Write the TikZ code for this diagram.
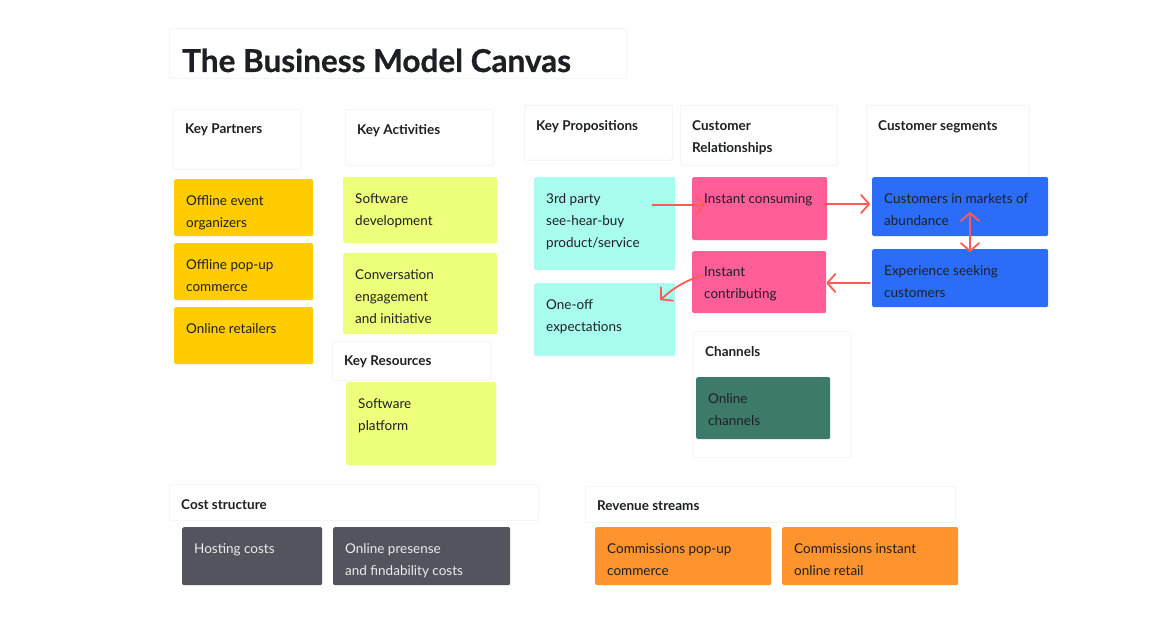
\documentclass[tikz,border=0pt]{standalone}
\usepackage{fontspec}
\setmainfont{Lato}
\newfontfamily\titlefont[BoldFeatures={FakeBold=0.7}]{Lato}
\usetikzlibrary{arrows.meta}
\definecolor{ink}{HTML}{1E1F24}
\definecolor{light}{HTML}{ECECEE}
\definecolor{cyellow}{HTML}{FFCC00}
\definecolor{clime}{HTML}{EEFF7B}
\definecolor{ccyan}{HTML}{A8FDEF}
\definecolor{cpink}{HTML}{FF5E99}
\definecolor{cblue}{HTML}{2B6DF8}
\definecolor{cgreen}{HTML}{3D7A6A}
\definecolor{cgray}{HTML}{53555E}
\definecolor{corange}{HTML}{FF932D}
\definecolor{arrred}{HTML}{FF5B55}
\definecolor{hborder}{HTML}{F0F0F0}
\tikzset{
  box/.style={rounded corners=1.5pt, inner sep=0pt, anchor=north west},
  head/.style={box, fill=white, draw=hborder, line width=0.6pt},
  txt/.style={anchor=north west, inner sep=0pt, align=left, font=\fontsize{13.5}{22}\selectfont, text=ink},
  htxt/.style={txt, font=\fontsize{13.5}{22}\selectfont\bfseries},
  arr/.style={draw=arrred, line width=1.8pt, line cap=round, line join=round,
    -{Straight Barb[length=8pt,width=18pt,round]}},
  darr/.style={draw=arrred, line width=1.8pt, line cap=round, line join=round,
    {Straight Barb[length=8pt,width=18pt,round]}-{Straight Barb[length=8pt,width=18pt,round]}}
}
% header box: name, x, y, w, h, text
\newcommand\hdr[6]{%
  \node[head, minimum width=#4, minimum height=#5] (#1) at (#2,#3) {};
  \node[htxt] (#1t) at ([xshift=12pt,yshift=-15pt]#1.north west) {#6};}
% sticky note: [text colour] name, x, y, w, h, fill, text
\newcommand\stk[8][ink]{%
  \node[box, fill=#7, minimum width=#5, minimum height=#6] (#2) at (#3,#4) {};
  \node[txt, text=#1] (#2t) at ([xshift=12pt,yshift=-16pt]#2.north west) {#8};}
\begin{document}
\begin{tikzpicture}[x=1pt,y=-1pt]
\useasboundingbox[fill=white] (0,0) rectangle (1174,620);

% title
\node[head, minimum width=457, minimum height=50] (title) at (169,28) {};
\node[anchor=base west, inner sep=0pt, font=\titlefont\fontsize{31.5}{33}\selectfont\bfseries, text=ink] (titlet) at (182,72) {The Business Model Canvas};

% section headers
\hdr{kp}{173}{109}{128}{60}{Key Partners}
\hdr{ka}{345}{109}{148}{56}{Key Activities}
\hdr{kpr}{524}{105}{148}{55}{Key Propositions}
\hdr{cr}{680}{105}{157}{60}{Customer\\Relationships}
\hdr{cseg}{866}{105}{163}{74}{Customer segments}
\hdr{kr}{332}{341}{158}{39}{Key Resources}
\hdr{chan}{693}{331}{157}{126}{Channels}
\hdr{cost}{169}{484}{369}{36}{Cost structure}
\hdr{rev}{585}{486}{370}{36}{Revenue streams}

% sticky notes
\stk{oe}{174}{179}{139}{57}{cyellow}{Offline event\\organizers}
\stk{op}{174}{243}{139}{57}{cyellow}{Offline pop-up\\commerce}
\stk{ore}{174}{307}{139}{57}{cyellow}{Online retailers}
\stk{sd}{343}{177}{154}{66}{clime}{Software\\development}
\stk{ce}{343}{253}{154}{81}{clime}{Conversation\\engagement\\and initiative}
\stk{sp}{346}{382}{150}{83}{clime}{Software\\platform}
\stk{tp}{534}{177}{141}{93}{ccyan}{3rd party\\see-hear-buy\\product/service}
\stk{oo}{534}{283}{141}{73}{ccyan}{One-off\\expectations}
\stk{ic}{692}{177}{135}{63}{cpink}{Instant consuming}
\stk{ict}{692}{251}{134}{62}{cpink}{Instant\\contributing}
\stk{cm}{872}{177}{176}{59}{cblue}{Customers in markets of\\abundance}
\stk{es}{872}{249}{176}{58}{cblue}{Experience seeking\\customers}
\stk{oc}{696}{377}{134}{62}{cgreen}{Online\\channels}
\stk[light]{hc}{182}{527}{140}{58}{cgray}{Hosting costs}
\stk[light]{opf}{333}{527}{177}{58}{cgray}{Online presense\\and findability costs}
\stk{cpc}{595}{527}{176}{58}{corange}{Commissions pop-up\\commerce}
\stk{coi}{782}{527}{176}{58}{corange}{Commissions instant\\online retail}

% connectors
\draw[arr] ([xshift=-23pt,yshift=-28pt]tp.north east) -- ([xshift=13pt,yshift=-28pt]ic.north west);
\draw[arr] ([xshift=-4pt,yshift=-27pt]ic.north east) -- ([xshift=-2pt,yshift=-27pt]cm.north west);
\draw[arr] ([xshift=-2pt,yshift=-34pt]es.north west) -- ([yshift=-32pt]ict.north east);
\draw[arr] ([xshift=11pt,yshift=-24pt]ict.north west) to[bend right=12] ([xshift=-15pt,yshift=-17pt]oo.north east);
\draw[darr] ([xshift=98pt,yshift=-35pt]cm.north west) -- ([xshift=98pt,yshift=-3pt]es.north west);
\end{tikzpicture}
\end{document}
